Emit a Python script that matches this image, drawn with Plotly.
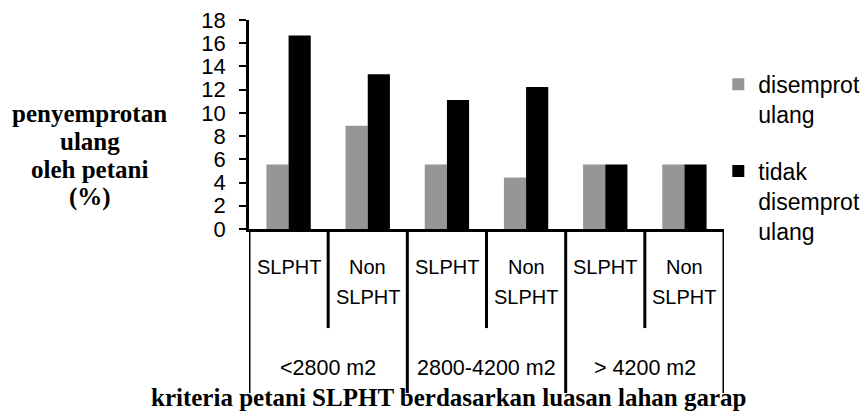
import plotly.graph_objects as go

# Land-area groups and farmer categories
groups = ["<2800 m2", "2800-4200 m2", "> 4200 m2"]
subcats = ["SLPHT", "Non\nSLPHT"]

# Share of farmers (%) per group/category
disemprot_ulang = [5.56, 8.89, 5.56, 4.44, 5.56, 5.56]
tidak_disemprot_ulang = [16.67, 13.33, 11.11, 12.22, 5.56, 5.56]

series_names = ["disemprot<br>ulang", "tidak<br>disemprot<br>ulang"]
series_colors = ["#969696", "#000000"]

y_ticks = list(range(0, 20, 2))

n_cat = len(groups) * len(subcats)
x_pos = list(range(n_cat))
cat_labels = [s for _ in groups for s in subcats]

SANS = "Liberation Sans, Arial, sans-serif"
SERIF = "Liberation Serif, Times New Roman, serif"

fig = go.Figure()
for name, vals, col in zip(series_names, [disemprot_ulang, tidak_disemprot_ulang], series_colors):
    fig.add_trace(go.Bar(
        x=x_pos, y=vals, name=name, legendgroup=name,
        marker=dict(color=col, line=dict(width=0)),
    ))

fig.update_layout(
    width=863, height=413,
    margin=dict(l=249, r=139, t=20, b=184, autoexpand=False),
    paper_bgcolor="white", plot_bgcolor="white",
    barmode="group", bargap=0.44, bargroupgap=0,
    showlegend=True,
    legend=dict(
        x=0.988, xanchor="left", y=0.795, yanchor="top",
        font=dict(family=SANS, size=23, color="black"),
        itemwidth=30, valign="top", tracegroupgap=24,
        bgcolor="rgba(0,0,0,0)",
    ),
    xaxis=dict(
        range=[-0.5, n_cat - 0.5], showticklabels=False, ticks="",
        showgrid=False, zeroline=False,
        showline=True, linecolor="black", linewidth=3,
    ),
    yaxis=dict(
        range=[0, 18], tickvals=y_ticks, ticktext=[str(v) for v in y_ticks],
        ticks="outside", ticklen=7, tickwidth=2, tickcolor="black",
        ticklabelstandoff=9,
        showline=True, linecolor="black", linewidth=2.5,
        showgrid=False, zeroline=False,
        tickfont=dict(family=SANS, size=22, color="black"),
    ),
)

# Divider lines below the category axis
shapes = []
for k in range(n_cat + 1):
    is_group_edge = (k % len(subcats) == 0)
    shapes.append(dict(
        type="line", xref="x", yref="paper",
        x0=k - 0.5, x1=k - 0.5, y0=0,
        y1=-0.785 if is_group_edge else -0.474,
        line=dict(color="black", width=3),
    ))
fig.update_layout(shapes=shapes)

annotations = []
# Category labels (one annotation per text line)
for i, lab in enumerate(cat_labels):
    for j, line in enumerate(lab.split("\n")):
        annotations.append(dict(
            x=x_pos[i], xref="x", y=0, yref="paper",
            text=line, showarrow=False, xanchor="center", yanchor="middle",
            yshift=-38 - 30 * j,
            font=dict(family=SANS, size=20, color="black"),
        ))
# Group labels
for g, lab in enumerate(groups):
    annotations.append(dict(
        x=g * len(subcats) + (len(subcats) - 1) / 2, xref="x", y=0, yref="paper",
        text=lab, showarrow=False, xanchor="center", yanchor="middle",
        yshift=-139,
        font=dict(family=SANS, size=21.5, color="black"),
    ))
# Axis titles
annotations.append(dict(
    x=0.419, xref="paper", y=0, yref="paper",
    text="<b>kriteria petani SLPHT berdasarkan luasan lahan garap</b>",
    showarrow=False, xanchor="center", yanchor="middle", yshift=-168,
    font=dict(family=SERIF, size=25, color="black"),
))
y_title_lines = ["penyemprotan", "ulang", "oleh petani", "(%)"]
for j, line in enumerate(y_title_lines):
    annotations.append(dict(
        x=-0.335, xref="paper", y=1, yref="paper",
        text="<b>" + line + "</b>", showarrow=False,
        xanchor="center", yanchor="middle",
        yshift=-(113 - 20) - 28 * j,
        font=dict(family=SERIF, size=25, color="black"),
    ))
fig.update_layout(annotations=annotations)

fig.write_html("out.html")
